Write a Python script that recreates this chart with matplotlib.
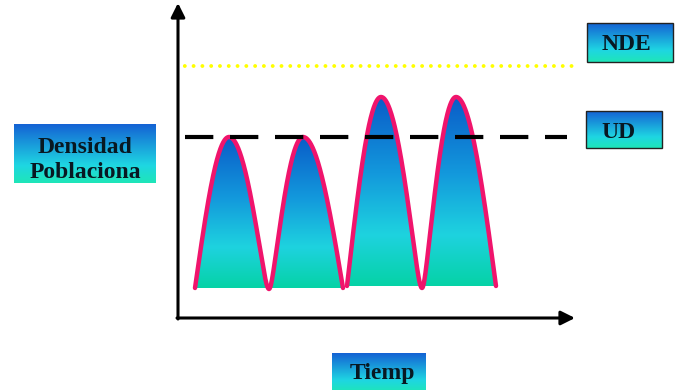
import numpy as np
import matplotlib
matplotlib.use("Agg")
import matplotlib.pyplot as plt
from matplotlib.colors import LinearSegmentedColormap
from matplotlib.patches import Polygon, Rectangle

# ---------------- data (schematic units) ----------------
# two population "waves", each with two peaks
group_starts = [1.7, 16.9]
group_ends = [16.5, 31.8]
group_bases = [3.0, 3.2]
peak_times = [[5.1, 12.5], [20.3, 27.8]]
peak_heights = [18.1, 22.1]
trough_times = [9.1, 24.4]
trough_levels = [2.9, 3.0]

UD = 18.1    # umbral de daño
NDE = 25.2   # nivel de daño económico

y_label = "Densidad\nPoblaciona"
x_label = "Tiemp"
ud_label = "UD"
nde_label = "NDE"

# ---------------- figure ----------------
W, H = 680, 390
fig = plt.figure(figsize=(W / 100, H / 100), dpi=100)
fig.patch.set_facecolor("white")

ax = fig.add_axes([178 / W, (H - 318) / H, 400 / W, 315 / H])
ax.set_xlim(0, 40)
ax.set_ylim(0, 31.5)
ax.axis("off")

fill_cmap = LinearSegmentedColormap.from_list(
    "fill", [(0.0, "#05d2a6"), (0.27, "#1ed3df"), (0.6, "#1398dc"), (1.0, "#0a5cc8")])
box_cmap = LinearSegmentedColormap.from_list(
    "box", [(0.0, "#1ee6b8"), (0.3, "#1fd6e2"), (1.0, "#1462d4")])


def shape(u, soft):
    s = np.sin(np.pi / 2 * u)
    if soft <= 0:
        return s
    return (np.sqrt(s ** 2 + soft ** 2) - soft) / (np.sqrt(1 + soft ** 2) - soft)


def segment(x0, y0, x1, y1, soft, n=100):
    """rise/fall between a low node and a high node, rounded at the top."""
    u = np.linspace(0, 1, n)
    xs = x0 + (x1 - x0) * u
    if y1 > y0:
        ys = y0 + (y1 - y0) * shape(u, soft)
    else:
        ys = y1 + (y0 - y1) * shape(1 - u, soft)
    return xs, ys


for g in range(2):
    nodes_x = [group_starts[g], peak_times[g][0], trough_times[g], peak_times[g][1], group_ends[g]]
    nodes_y = [group_bases[g], peak_heights[g], trough_levels[g], peak_heights[g], group_bases[g]]
    softs = [0.0, 0.15, 0.15, 0.0]
    xs, ys = [], []
    for i in range(4):
        sx, sy = segment(nodes_x[i], nodes_y[i], nodes_x[i + 1], nodes_y[i + 1], softs[i])
        xs.append(sx if i == 0 else sx[1:])
        ys.append(sy if i == 0 else sy[1:])
    xs = np.concatenate(xs)
    ys = np.concatenate(ys)

    poly_pts = np.column_stack([np.r_[xs, xs[-1], xs[0]],
                                np.r_[ys, group_bases[g], group_bases[g]]])
    clip = Polygon(poly_pts, closed=True, facecolor="none", edgecolor="none",
                   transform=ax.transData)
    ax.add_patch(clip)
    grad = np.linspace(0, 1, 256).reshape(-1, 1)
    im = ax.imshow(grad, cmap=fill_cmap, origin="lower", aspect="auto",
                   extent=[xs.min(), xs.max(), group_bases[g], peak_heights[g]],
                   zorder=2)
    im.set_clip_path(clip)
    ax.plot(xs, ys, color="#f0146c", lw=3.2, solid_capstyle="round",
            solid_joinstyle="round", zorder=3)

# reference lines
ax.plot([0.7, 38.9], [UD, UD], color="black", lw=3.0,
        linestyle=(0, (6.8, 4.0)), zorder=4)
ax.plot([-0.2, 39.4], [NDE, NDE], color="#ffff00", lw=2.8,
        linestyle=(0, (0.01, 2.25)), dash_capstyle="round", zorder=4)
ax.set_xlim(0, 40)
ax.set_ylim(0, 31.5)

# axes with arrows
arrow_kw = dict(arrowstyle="-|>,head_length=0.7,head_width=0.35", lw=2.2,
                color="black", shrinkA=0, shrinkB=0, mutation_scale=12)
ax.annotate("", xy=(0, 31.5), xytext=(0, -0.1), arrowprops=arrow_kw,
            annotation_clip=False, zorder=5)
ax.annotate("", xy=(39.7, 0), xytext=(-0.1, 0), arrowprops=arrow_kw,
            annotation_clip=False, zorder=5)

# ---------------- label boxes (overlay in pixel coords) ----------------
ov = fig.add_axes([0, 0, 1, 1])
ov.set_xlim(0, W)
ov.set_ylim(H, 0)
ov.axis("off")
ov.patch.set_alpha(0)


def label_box(x0, y0, x1, y1, text, tx, ty, size, border, ls=1.2):
    rect = Rectangle((x0, y0), x1 - x0, y1 - y0, facecolor="none",
                     edgecolor="#222222" if border else "none", lw=1.0, zorder=6)
    ov.add_patch(rect)
    grad = np.linspace(0, 1, 256).reshape(-1, 1)
    im = ov.imshow(grad, cmap=box_cmap, origin="lower", aspect="auto",
                   extent=[x0, x1, y1, y0], zorder=5)
    im.set_clip_path(rect)
    t = ov.text(tx, ty, text, ha="center", va="center", fontsize=size,
                fontweight="bold", family=["Liberation Serif", "DejaVu Serif"],
                color="#081822", linespacing=ls, zorder=7)
    t.set_clip_path(rect)


label_box(14, 124, 156, 183, y_label, 85, 160, 17, False, ls=1.3)
label_box(587, 23, 673, 62, nde_label, 626, 45, 17, True)
label_box(586, 111, 662, 148, ud_label, 618, 133, 17, True)
label_box(332, 353, 426, 392, x_label, 382, 374, 17, False)
ov.set_xlim(0, W)
ov.set_ylim(H, 0)

fig.savefig("out.png", dpi=100, facecolor="white")
